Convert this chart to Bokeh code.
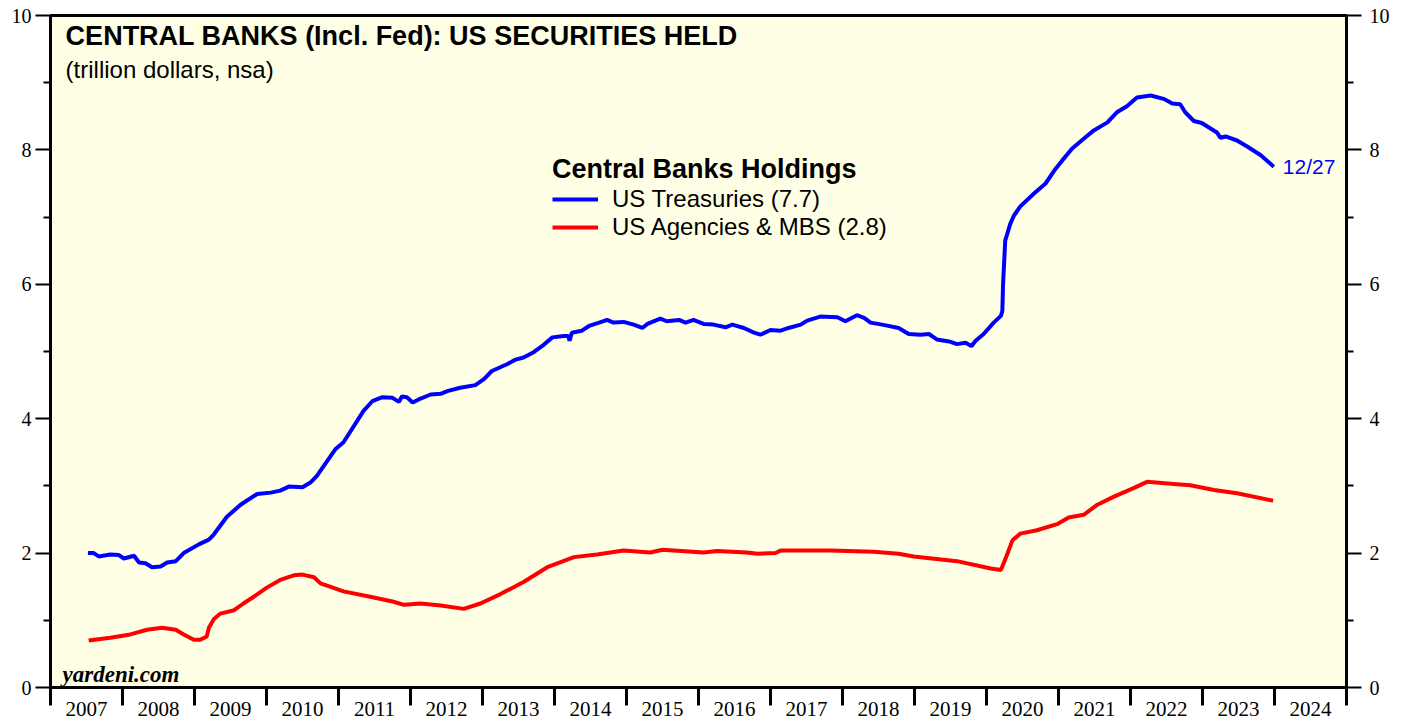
from bokeh.plotting import figure
from bokeh.models import Range1d, FixedTicker, LinearAxis, Label, Legend, LegendItem
from bokeh.core.properties import value
from bokeh.embed import file_html
from bokeh.resources import INLINE

# ---- data (decimal years, trillion dollars) ----
treas_x = [2007.52, 2007.60, 2007.67, 2007.83, 2007.95, 2008.02, 2008.16, 2008.23, 2008.32, 2008.41,
           2008.53, 2008.62, 2008.74, 2008.85, 2009.06, 2009.20, 2009.27, 2009.45, 2009.64, 2009.87,
           2010.06, 2010.19, 2010.31, 2010.50, 2010.61, 2010.70, 2010.96, 2011.07, 2011.35, 2011.47,
           2011.61, 2011.75, 2011.84, 2011.88, 2011.95, 2012.03, 2012.14, 2012.28, 2012.42, 2012.51,
           2012.69, 2012.90, 2013.02, 2013.13, 2013.34, 2013.46, 2013.57, 2013.71, 2013.85, 2013.97,
           2014.13, 2014.19, 2014.21, 2014.24, 2014.38, 2014.48, 2014.62, 2014.73, 2014.82, 2014.96,
           2015.10, 2015.22, 2015.29, 2015.47, 2015.56, 2015.73, 2015.82, 2015.93, 2016.07, 2016.21,
           2016.375, 2016.47, 2016.63, 2016.77, 2016.86, 2017.00, 2017.14, 2017.25, 2017.42, 2017.51,
           2017.69, 2017.93, 2018.04, 2018.20, 2018.30, 2018.39, 2018.55, 2018.78, 2018.92, 2019.08,
           2019.20, 2019.31, 2019.48, 2019.59, 2019.71, 2019.79, 2019.85, 2019.96, 2020.10, 2020.20,
           2020.22, 2020.23, 2020.26, 2020.33, 2020.38, 2020.47, 2020.66, 2020.82, 2020.96, 2021.05,
           2021.19, 2021.40, 2021.49, 2021.68, 2021.81, 2021.95, 2022.09, 2022.28, 2022.46, 2022.58,
           2022.69, 2022.76, 2022.88, 2022.99, 2023.20, 2023.25, 2023.32, 2023.48, 2023.62, 2023.81,
           2023.99]
treas_y = [2.00, 2.00, 1.95, 1.98, 1.97, 1.92, 1.96, 1.86, 1.85, 1.79,
           1.80, 1.86, 1.88, 2.00, 2.13, 2.20, 2.28, 2.54, 2.72, 2.88,
           2.90, 2.93, 2.99, 2.98, 3.05, 3.15, 3.55, 3.65, 4.12, 4.26,
           4.32, 4.31, 4.25, 4.33, 4.32, 4.24, 4.30, 4.36, 4.37, 4.41,
           4.46, 4.50, 4.59, 4.71, 4.81, 4.88, 4.91, 4.99, 5.10, 5.21,
           5.23, 5.23, 5.16, 5.28, 5.31, 5.38, 5.43, 5.47, 5.43, 5.44,
           5.40, 5.35, 5.41, 5.49, 5.45, 5.47, 5.43, 5.47, 5.41, 5.40,
           5.36, 5.40, 5.35, 5.28, 5.25, 5.32, 5.31, 5.35, 5.40, 5.46,
           5.52, 5.51, 5.45, 5.54, 5.50, 5.43, 5.40, 5.35, 5.26, 5.25,
           5.26, 5.18, 5.15, 5.11, 5.13, 5.08, 5.16, 5.26, 5.43, 5.53,
           5.60, 6.00, 6.65, 6.90, 7.02, 7.16, 7.35, 7.50, 7.72, 7.84,
           8.02, 8.21, 8.29, 8.41, 8.56, 8.65, 8.78, 8.81, 8.76, 8.69,
           8.68, 8.56, 8.43, 8.40, 8.26, 8.18, 8.20, 8.14, 8.05, 7.92,
           7.75]

mbs_x = [2007.53, 2007.83, 2008.11, 2008.34, 2008.55, 2008.74, 2008.85, 2008.99, 2009.08, 2009.17,
         2009.20, 2009.27, 2009.36, 2009.55, 2009.68, 2009.85, 2010.01, 2010.19, 2010.38, 2010.50,
         2010.66, 2010.75, 2011.07, 2011.44, 2011.75, 2011.91, 2012.14, 2012.42, 2012.74, 2012.97,
         2013.25, 2013.57, 2013.90, 2014.27, 2014.59, 2014.96, 2015.33, 2015.50, 2016.07, 2016.26,
         2016.67, 2016.82, 2017.07, 2017.14, 2017.83, 2018.43, 2018.78, 2018.99, 2019.59, 2020.06,
         2020.20, 2020.28, 2020.36, 2020.47, 2020.70, 2020.98, 2021.14, 2021.35, 2021.54, 2021.77,
         2022.05, 2022.23, 2022.60, 2022.83, 2023.16, 2023.48, 2023.98]
mbs_y = [0.70, 0.74, 0.79, 0.86, 0.89, 0.86, 0.79, 0.71, 0.71, 0.76,
         0.89, 1.02, 1.10, 1.15, 1.25, 1.37, 1.49, 1.60, 1.67, 1.68,
         1.64, 1.55, 1.43, 1.35, 1.28, 1.23, 1.25, 1.22, 1.17, 1.25,
         1.39, 1.57, 1.79, 1.94, 1.98, 2.04, 2.01, 2.05, 2.01, 2.03,
         2.01, 1.99, 2.00, 2.04, 2.04, 2.02, 1.99, 1.95, 1.88, 1.77,
         1.75, 1.96, 2.19, 2.29, 2.34, 2.43, 2.53, 2.57, 2.72, 2.84,
         2.97, 3.06, 3.03, 3.01, 2.94, 2.89, 2.78]

year_labels = [str(y) for y in range(2007, 2025)]
year_bounds = list(range(2007, 2026))
y_major = [0, 2, 4, 6, 8, 10]
y_minor = [1, 3, 5, 7, 9]

SANS = "Liberation Sans"
SERIF = "Liberation Serif"

p = figure(width=1400, height=719, x_range=Range1d(2007, 2025), y_range=Range1d(0, 10),
           output_backend="svg", toolbar_location=None,
           min_border_left=50, min_border_right=54, min_border_top=15, min_border_bottom=32,
           background_fill_color="#FFFFE6", border_fill_color="white")
p.outline_line_color = "black"
p.outline_line_width = 3
p.xgrid.visible = False
p.ygrid.visible = False

# x axis: labels centred in each year, ticks at year boundaries
mid = [int(s) + 0.5 for s in year_labels]
xa = p.xaxis[0]
xa.ticker = FixedTicker(ticks=mid, minor_ticks=year_bounds)
xa.major_label_overrides = {m: s for m, s in zip(mid, year_labels)}
xa.major_tick_line_color = None
xa.major_tick_out = 0
xa.major_tick_in = 0
xa.minor_tick_out = 18
xa.minor_tick_in = 0
xa.minor_tick_line_width = 3
xa.minor_tick_line_color = "black"
xa.axis_line_width = 3
xa.major_label_standoff = -4
xa.major_label_text_font = SERIF
xa.major_label_text_font_size = "21px"
xa.major_label_text_color = "black"

def style_y(ax, standoff):
    ax.ticker = FixedTicker(ticks=y_major, minor_ticks=y_minor)
    ax.major_tick_out = 15
    ax.major_tick_in = 0
    ax.minor_tick_out = 7
    ax.minor_tick_in = 0
    ax.major_tick_line_width = 2
    ax.minor_tick_line_width = 2
    ax.major_tick_line_color = "black"
    ax.minor_tick_line_color = "black"
    ax.axis_line_width = 3
    ax.major_label_standoff = standoff
    ax.major_label_text_font = SERIF
    ax.major_label_text_font_size = "20px"
    ax.major_label_text_color = "black"

style_y(p.yaxis[0], 4)
ry = LinearAxis()
style_y(ry, 8)
p.add_layout(ry, "right")

r_t = p.line(treas_x, treas_y, line_color="#0000FF", line_width=4)
r_m = p.line(mbs_x, mbs_y, line_color="#FF0000", line_width=4)

p.text(x=[treas_x[-1]], y=[treas_y[-1]], text=["12/27"], x_offset=9, y_offset=0,
       text_baseline="middle", text_align="left", text_color="#0000FF",
       text_font=value(SANS), text_font_size="21px")

p.add_layout(Label(x=2007.21, y=9.689, text="CENTRAL BANKS (Incl. Fed): US SECURITIES HELD",
                   text_font=SANS, text_font_style="bold", text_font_size="27px",
                   text_baseline="middle", text_color="black"))
p.add_layout(Label(x=2007.21, y=9.19, text="(trillion dollars, nsa)",
                   text_font=SANS, text_font_size="24px",
                   text_baseline="middle", text_color="black"))
p.add_layout(Label(x=2007.167, y=0.20, text="yardeni.com",
                   text_font=SERIF, text_font_style="bold italic", text_font_size="23px",
                   text_baseline="middle", text_color="black"))

legend = Legend(items=[LegendItem(label="US Treasuries (7.7)", renderers=[r_t]),
                       LegendItem(label="US Agencies & MBS (2.8)", renderers=[r_m])],
                location=(502, 446), title="Central Banks Holdings",
                title_text_font=SANS, title_text_font_style="bold", title_text_font_size="27px",
                title_text_color="black", title_standoff=-2,
                label_text_font=SANS, label_text_font_size="24px", label_standoff=14,
                label_text_color="black",
                glyph_width=46, glyph_height=28, spacing=0, padding=0, margin=0,
                background_fill_alpha=0, border_line_color=None)
p.add_layout(legend, "center")

open("out.html", "w").write(file_html(p, INLINE))
